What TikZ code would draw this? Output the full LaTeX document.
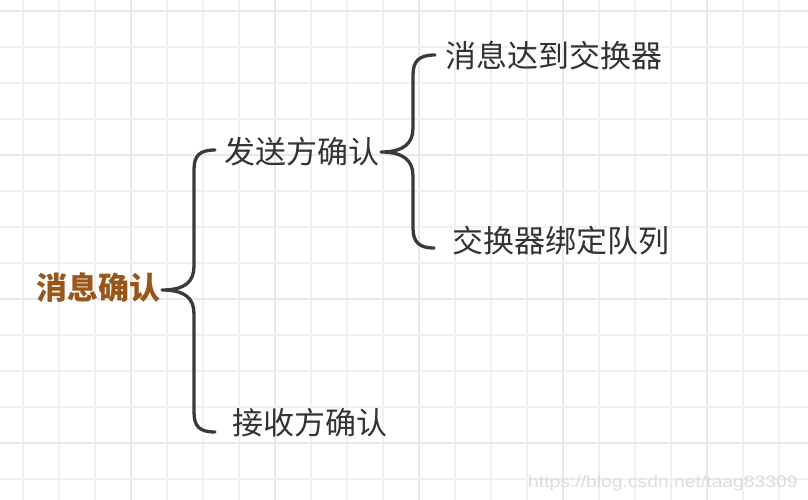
\documentclass[tikz,border=0pt]{standalone}
\usepackage{fontspec}
\newfontfamily\cjk{Noto Sans CJK SC}
\setsansfont{Liberation Sans}
\definecolor{gridminor}{HTML}{F0F0F0}
\definecolor{gridmajor}{HTML}{E8E8E8}
\definecolor{rootbrown}{RGB}{152,86,26}
\definecolor{bracegray}{HTML}{3A3A3A}
\definecolor{txtgray}{HTML}{333333}
\definecolor{wmgray}{HTML}{DCDCDC}
\tikzset{
  lbl/.style={inner sep=0pt, font=\cjk\fontsize{31}{31}\selectfont, text=txtgray},
  rootlbl/.style={inner sep=0pt, font=\cjk\bfseries\fontsize{31}{31}\selectfont, text=rootbrown},
  bracepath/.style={draw=bracegray, line width=3.3pt, line cap=round, line join=round},
  gridminorline/.style={draw=gridminor, line width=1.6pt},
  gridmajorline/.style={draw=gridmajor, line width=2.2pt}
}
\begin{document}
\begin{tikzpicture}[x=1pt,y=-1pt]
\useasboundingbox (0,0) rectangle (808,500);
\fill[white] (0,0) rectangle (808,500);
% grid
\foreach \k in {0,...,21} {
  \pgfmathtruncatemacro{\m}{mod(\k,4)}
  \ifnum\m=3
    \draw[gridmajorline] ({23+36*\k},0) -- ({23+36*\k},500);
  \else
    \draw[gridminorline] ({23+36*\k},0) -- ({23+36*\k},500);
  \fi
}
\foreach \k in {0,...,13} {
  \pgfmathtruncatemacro{\m}{mod(\k,4)}
  \ifnum\m=0
    \draw[gridmajorline] (0,{11+36*\k}) -- (808,{11+36*\k});
  \else
    \draw[gridminorline] (0,{11+36*\k}) -- (808,{11+36*\k});
  \fi
}
% labels
\node[rootlbl] (root) at (98.5,288) {消息确认};
\node[lbl] (send) at (302,152) {发送方确认};
\node[lbl] (recv) at (310,423) {接收方确认};
\node[lbl] (reach) at (554,56) {消息达到交换器};
\node[lbl] (bind) at (560.5,241) {交换器绑定队列};
% brace anchors
\coordinate (b1tip) at (162,290);
\coordinate (b1top) at (215,150);
\coordinate (b1bot) at (215,432);
\coordinate (b2tip) at (381,152);
\coordinate (b2top) at (435,55);
\coordinate (b2bot) at (434,248);
% brace 1
\draw[bracepath] (b1top) .. controls (199,150) and (194,156) .. (194,170) -- (194,266)
  .. controls (194,281) and (186,290) .. (b1tip)
  .. controls (186,290) and (194,299) .. (194,314) -- (194,412)
  .. controls (194,426) and (199,432) .. (b1bot);
% brace 2
\draw[bracepath] (b2top) .. controls (419,55) and (413,61) .. (413,75) -- (413,128)
  .. controls (413,143) and (404,152) .. (b2tip)
  .. controls (404,152) and (413,161) .. (413,176) -- (413,228)
  .. controls (413,242) and (419,248) .. (b2bot);
% watermark
\node[inner sep=0pt, anchor=west, xscale=1.17, font=\sffamily\fontsize{16.5}{16.5}\selectfont, text=wmgray] (wm) at (528,483) {https://blog.csdn.net/taag83309};
\end{tikzpicture}
\end{document}
